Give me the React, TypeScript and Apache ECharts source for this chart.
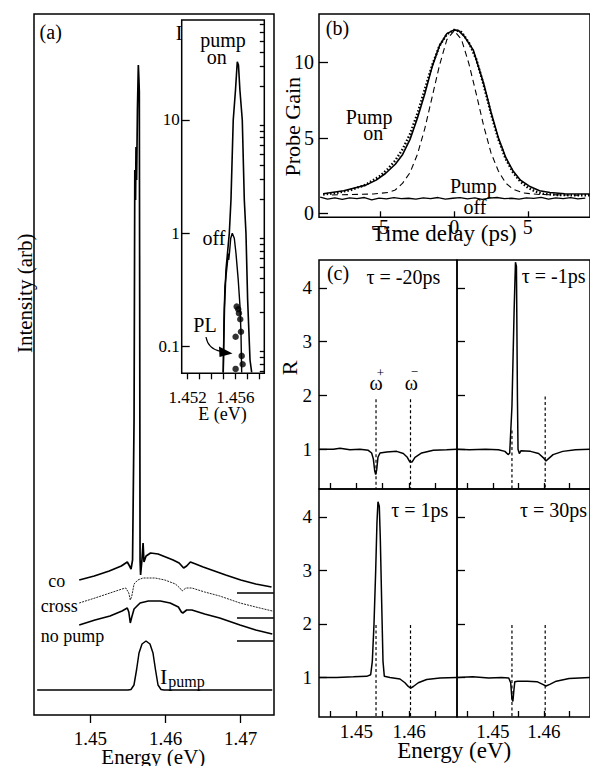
import React, { useEffect, useRef } from "react";
import * as echarts from "echarts";

const FONT = "Liberation Serif, serif";

// ---------- (a) main spectra: [energy (eV), intensity (arb)] ----------
const coTrace = [[1.4485,135],[1.4505,139],[1.4525,144],[1.4541,149],[1.4549,153],[1.4552,149],[1.4554,146],[1.4556,155],[1.4558,295],[1.4559,545],[1.456,515],[1.45606,568],[1.45614,535],[1.45625,605],[1.45637,650],[1.45645,635],[1.4565,623],[1.45655,415],[1.4566,155],[1.45667,140],[1.45685,155],[1.457,172],[1.45712,153],[1.4574,159],[1.458,162],[1.459,161],[1.46,158],[1.461,155],[1.4618,152],[1.4624,147],[1.4628,149],[1.4633,153],[1.464,151],[1.465,148],[1.4665,144],[1.468,140],[1.47,135],[1.472,131],[1.4741,128]];
const crossTrace = [[1.4485,112],[1.4506,117],[1.4526,122],[1.4542,126],[1.4547,127],[1.4551,122],[1.4553,115],[1.4555,119],[1.4558,131],[1.4563,135],[1.457,137],[1.4586,137],[1.4599,135],[1.4613,131],[1.4619,127],[1.4622,124],[1.4627,127],[1.4635,127],[1.4652,123],[1.4672,119],[1.4699,112],[1.472,108],[1.4742,104]];
const noPumpTrace = [[1.4485,90],[1.4506,95],[1.4526,99],[1.4542,104],[1.4549,107],[1.4551,103],[1.4553,92],[1.4555,98],[1.4558,106],[1.4566,112],[1.4577,114],[1.4593,114],[1.4606,112],[1.4617,108],[1.4621,103],[1.4623,102],[1.4628,105],[1.4635,105],[1.4652,101],[1.4672,97],[1.4699,90],[1.472,85],[1.4742,81]];
const pumpSpectrum = [[1.4429,25],[1.455,25],[1.45539,25.5],[1.45579,30],[1.45613,45],[1.45646,62],[1.45686,71],[1.45739,74],[1.45792,71],[1.45832,62],[1.45866,45],[1.45899,30],[1.45939,25.5],[1.4598,25],[1.4742,25]];
const baselineLevels = [122, 97, 74];
const baselineSpan = [1.4695, 1.4744];
const aTicks = [1.45, 1.46, 1.47];

// ---------- (a) inset: [energy (eV), intensity] on log scale ----------
const insetPumpOn = [[1.45499,0.059],[1.45509,0.21],[1.45522,0.474],[1.4555,1.0],[1.45564,1.97],[1.45583,10],[1.45602,18.4],[1.45617,32.7],[1.45627,30.6],[1.45639,18.4],[1.45659,10],[1.45676,1.97],[1.4569,1.0],[1.45704,0.258],[1.45724,0.076],[1.45738,0.059]];
const insetOff = [[1.45499,0.059],[1.45505,0.172],[1.45513,0.338],[1.45522,0.414],[1.45535,0.56],[1.45541,0.66],[1.45545,0.58],[1.45552,0.68],[1.45562,0.903],[1.45575,1.0],[1.45592,0.903],[1.45606,0.666],[1.45625,0.387],[1.4564,0.225],[1.45648,0.132],[1.45654,0.059]];
const insetPL = [[1.45612,0.225],[1.45625,0.213],[1.45631,0.197],[1.45642,0.174],[1.45648,0.135],[1.45603,0.122],[1.45654,0.0826],[1.45662,0.0698],[1.45603,0.0634]];
const insetXTicks = [1.452, 1.453, 1.454, 1.455, 1.456, 1.457, 1.458];
const insetXLabels = [1.452, 1.456];
const insetMajor = [0.1, 1, 10];
const insetMinor = [0.06,0.07,0.08,0.09,0.2,0.3,0.4,0.5,0.6,0.7,0.8,0.9,2,3,4,5,6,7,8,9,20,30,40,50,60,70];

// ---------- (b) probe gain vs time delay (ps) ----------
const bSolid = [[-8.9,1.3],[-7.5,1.5],[-6.5,1.75],[-6,1.87],[-5.3,2.2],[-4.67,2.64],[-4,3.25],[-3.5,3.9],[-3,4.9],[-2.5,6.3],[-2,7.9],[-1.5,9.7],[-1,11.1],[-0.5,11.9],[0,12.15],[0.3,12.1],[0.7,11.7],[1.3,10.8],[2,8.6],[2.5,6.7],[3,5.0],[3.5,3.7],[4,2.8],[4.5,2.2],[5.1,1.8],[5.8,1.5],[6.5,1.38],[7.5,1.3],[9.2,1.28]];
const bDotted = [[-8.9,1.25],[-8,1.35],[-7,1.55],[-6,1.9],[-5,2.5],[-4.5,2.95],[-4,3.5],[-3.5,4.25],[-3,5.25],[-2.5,6.6],[-2,8.2],[-1.5,9.8],[-1,11.1],[-0.5,11.85],[0,12.15],[0.5,12.0],[1,11.3],[1.5,10.2],[2,8.5],[2.5,6.6],[3,4.9],[3.5,3.6],[4,2.7],[4.5,2.1],[5,1.7],[5.5,1.45],[6,1.3],[7,1.22],[8,1.2],[9.2,1.2]];
const bDashed = [[-8.3,1.22],[-5.5,1.28],[-4.5,1.38],[-4,1.55],[-3.5,2.0],[-3,2.7],[-2.5,3.9],[-2,5.6],[-1.5,7.7],[-1,9.8],[-0.5,11.5],[0,12.1],[0.5,11.5],[1,9.9],[1.5,7.9],[2,5.8],[2.5,4.0],[3,2.8],[3.5,2.0],[4,1.6],[4.7,1.35],[5.8,1.25],[8.5,1.2]];
const bOffT = [-9.1,-8.6,-8.1,-7.6,-7.1,-6.6,-6.1,-5.6,-5.1,-4.6,-4.1,-3.6,-3.1,-2.6,-2.1,-1.6,-1.1,-0.6,-0.1,0.4,0.9,1.4,1.9,2.4,2.9,3.4,3.9,4.4,4.9,5.4,5.9,6.4,6.9,7.4,7.9,8.4,8.9];
const bOffV = [1.08,0.95,1.02,0.93,1.03,0.97,1.05,0.9,1.01,0.96,1.04,0.98,1.0,0.94,1.03,0.97,1.05,0.95,1.0,1.04,0.96,1.02,0.93,1.01,1.05,0.97,1.0,0.94,1.03,0.99,1.06,0.95,1.02,0.97,1.04,0.96,1.01];
const bXTicks = [-5, 0, 5];
const bYTicks = [0, 5, 10];

// ---------- (c) R vs energy (eV) for four delays ----------
const cTopLeft = [[1.443,1.0],[1.44566,1.0],[1.44692,1.02],[1.4488,0.99],[1.4507,1.0],[1.45227,0.98],[1.4529,0.93],[1.45322,0.82],[1.45348,0.6],[1.45367,0.53],[1.45386,0.62],[1.4541,0.85],[1.45448,0.93],[1.45575,0.95],[1.45764,0.96],[1.45889,0.92],[1.45964,0.85],[1.46015,0.76],[1.46053,0.76],[1.4611,0.85],[1.46236,0.93],[1.46456,0.98],[1.46709,0.99],[1.469,1.0]];
const cTopRight = [[1.443,1.0],[1.4454,0.99],[1.44856,1.0],[1.45108,0.99],[1.45235,0.96],[1.45297,0.9],[1.45329,0.93],[1.45373,1.8],[1.45416,3.6],[1.45442,4.48],[1.45461,4.4],[1.4548,2.0],[1.45492,1.0],[1.45518,0.92],[1.45548,0.97],[1.45737,0.96],[1.45896,0.92],[1.45991,0.84],[1.4604,0.78],[1.46085,0.82],[1.4618,0.9],[1.46369,0.96],[1.4662,0.99],[1.469,1.0]];
const cBottomLeft = [[1.443,1.0],[1.4463,1.0],[1.44943,1.01],[1.45197,1.02],[1.45272,1.05],[1.45303,1.3],[1.45335,2.0],[1.45367,3.0],[1.45391,3.9],[1.4541,4.28],[1.45435,4.2],[1.45454,3.6],[1.4548,2.4],[1.45505,1.3],[1.4553,1.02],[1.45637,1.0],[1.45826,0.97],[1.4592,0.9],[1.45983,0.83],[1.46028,0.8],[1.46078,0.83],[1.46172,0.9],[1.4633,0.96],[1.46582,0.99],[1.469,1.0]];
const cBottomRight = [[1.443,1.0],[1.44603,1.01],[1.44919,0.99],[1.4517,1.0],[1.4531,0.99],[1.45348,0.9],[1.45373,0.6],[1.45391,0.55],[1.4541,0.75],[1.45429,0.92],[1.45486,0.93],[1.45675,0.93],[1.45864,0.92],[1.45977,0.87],[1.4604,0.84],[1.46115,0.87],[1.46242,0.93],[1.46494,0.98],[1.469,1.0]];
const cPanels = [cTopLeft, cTopRight, cBottomLeft, cBottomRight];
const omegaPlus = 1.45373;
const omegaMinus = 1.46025;
const omegaPlusTop = [1.93, 1.35, 1.98, 1.98];
const omegaMinusTop = [1.93, 1.98, 1.98, 1.98];
const cRMin = 0.26;
const cXTicks = [1.445, 1.45, 1.455, 1.46, 1.465];
const cXLabels = [1.45, 1.46];
const cYTicks = [1, 2, 3, 4];

function buildOption() {
  const txt = (size: number) => ({ color: "#000", fontFamily: FONT, fontSize: size });
  const tickStyle = { color: "#000", width: 1.3 };
  const lineS = (data: any[], xi: number, yi: number, width = 1.5, type: any = "solid", color = "#000") => ({
    type: "line", xAxisIndex: xi, yAxisIndex: yi, data, showSymbol: false, symbol: "none",
    silent: true, animation: false, lineStyle: { color, width, type }, z: 3,
  });

  const grids = [
    { left: 34, top: 14, width: 240, height: 701 },
    { left: 181.7, top: 20, width: 82.6, height: 353.3 },
    { left: 319, top: 14, width: 276, height: 203.3 },
    { left: 319, top: 260, width: 138, height: 229 },
    { left: 457, top: 260, width: 138, height: 229 },
    { left: 319, top: 489, width: 138, height: 228 },
    { left: 457, top: 489, width: 138, height: 228 },
  ].map((g) => ({ ...g, show: true, borderColor: "#000", borderWidth: 1.5, backgroundColor: "transparent" }));

  const lg = (v: number) => Math.log10(v);
  const insetYMin = lg(0.058), insetYMax = lg(76.3);

  const xAxis: any[] = [
    { gridIndex: 0, type: "value", min: 1.44248, max: 1.47443, axisLine: { show: false, onZero: false }, splitLine: { show: false },
      axisTick: { show: true, inside: false, length: 8, customValues: aTicks, lineStyle: tickStyle },
      axisLabel: { show: true, customValues: aTicks, margin: 14, formatter: (v: number) => v.toFixed(2), ...txt(19) } },
    { gridIndex: 1, type: "value", min: 1.4515, max: 1.45844, axisLine: { show: false, onZero: false }, splitLine: { show: false },
      axisTick: { show: true, inside: false, length: 6, customValues: insetXTicks, lineStyle: tickStyle },
      axisLabel: { show: true, customValues: insetXLabels, margin: 15.5, formatter: (v: number) => v.toFixed(3), ...txt(17) } },
    { gridIndex: 2, type: "value", min: -9.18, max: 9.22, axisLine: { show: false, onZero: false }, splitLine: { show: false },
      axisTick: { show: true, inside: true, length: 6, customValues: bXTicks, lineStyle: tickStyle },
      axisLabel: { show: true, customValues: bXTicks, margin: 0, formatter: (v: number) => String(v), ...txt(20) } },
  ];
  for (let i = 0; i < 4; i++) {
    const bottom = i >= 2;
    xAxis.push({ gridIndex: 3 + i, type: "value", min: 1.44295, max: 1.46904, axisLine: { show: false, onZero: false }, splitLine: { show: false },
      axisTick: { show: true, inside: true, length: 6, customValues: cXTicks, lineStyle: tickStyle },
      axisLabel: { show: bottom, customValues: cXLabels, margin: 5, formatter: (v: number) => v.toFixed(2), ...txt(19) } });
  }

  const yAxis: any[] = [
    { gridIndex: 0, type: "value", min: 0, max: 701, show: false },
    { gridIndex: 1, type: "value", min: insetYMin, max: insetYMax, axisLine: { show: false, onZero: false }, splitLine: { show: false },
      axisTick: { show: true, inside: true, length: 8, customValues: insetMajor.map(lg), lineStyle: tickStyle },
      axisLabel: { show: true, customValues: insetMajor.map(lg), margin: 2, ...txt(17),
        formatter: (v: number) => { const m = insetMajor.find((q) => Math.abs(lg(q) - v) < 1e-6); return m === undefined ? "" : String(m); } } },
    { gridIndex: 1, type: "value", min: insetYMin, max: insetYMax, axisLine: { show: false, onZero: false }, splitLine: { show: false },
      axisTick: { show: true, inside: true, length: 4.5, customValues: insetMinor.map(lg), lineStyle: tickStyle },
      axisLabel: { show: false } },
    { gridIndex: 2, type: "value", min: -0.26, max: 13.2, axisLine: { show: false, onZero: false }, splitLine: { show: false },
      axisTick: { show: true, inside: true, length: 9, customValues: bYTicks, lineStyle: tickStyle },
      axisLabel: { show: true, customValues: bYTicks, margin: 5, ...txt(20) } },
  ];
  for (let i = 0; i < 4; i++) {
    const leftCol = i % 2 === 0;
    yAxis.push({ gridIndex: 3 + i, type: "value", min: cRMin, max: 4.52, axisLine: { show: false, onZero: false }, splitLine: { show: false },
      axisTick: { show: true, inside: true, length: 8, customValues: cYTicks, lineStyle: tickStyle },
      axisLabel: { show: leftCol, customValues: cYTicks, margin: 7, ...txt(19) } });
  }

  const series: any[] = [
    lineS(coTrace, 0, 0, 1.7),
    lineS(crossTrace, 0, 0, 1, [2, 1], "#222"),
    lineS(noPumpTrace, 0, 0, 1.6),
    lineS(pumpSpectrum, 0, 0, 1.5),
    ...baselineLevels.map((lv) => lineS(baselineSpan.map((e) => [e, lv]), 0, 0, 1.4)),
    lineS(insetPumpOn.map(([e, v]) => [e, lg(v)]), 1, 1, 1.6),
    lineS(insetOff.map(([e, v]) => [e, lg(v)]), 1, 1, 1.4),
    { type: "scatter", xAxisIndex: 1, yAxisIndex: 1, data: insetPL.map(([e, v]) => [e, lg(v)]), symbol: "circle", symbolSize: 6.5,
      itemStyle: { color: "#000" }, silent: true, animation: false, z: 4 },
    lineS(bOffT.map((t, i) => [t, bOffV[i]]), 2, 3, 1.3),
    lineS(bDashed, 2, 3, 1.1, [6, 4]),
    lineS(bDotted, 2, 3, 2.4, [1.5, 2]),
    lineS(bSolid, 2, 3, 1.6),
  ];
  cPanels.forEach((d, i) => {
    series.push(lineS([[omegaPlus, omegaPlusTop[i]], [omegaPlus, cRMin]], 3 + i, 4 + i, 1.2, [3, 2.5]));
    series.push(lineS([[omegaMinus, omegaMinusTop[i]], [omegaMinus, cRMin]], 3 + i, 4 + i, 1.2, [3, 2.5]));
    series.push(lineS(d, 3 + i, 4 + i, 1.5));
  });

  const T = (text: string, x: number, y: number, size: number, align = "center", rot = 0) => ({
    type: "text", x, y, rotation: rot, z: 10, silent: true,
    style: { text, fill: "#000", fontFamily: FONT, fontSize: size, textAlign: align, textVerticalAlign: "middle" },
  });
  const R90 = Math.PI / 2;
  const graphic: any[] = [
    T("(a)", 50.7, 31.5, 20),
    T("I", 179, 33.2, 20),
    T("pump", 223, 39.9, 20),
    T("on", 216.7, 57, 20),
    T("off", 214, 237.7, 20),
    T("PL", 205, 325, 20),
    T("E (eV)", 222.5, 414, 18),
    T("Intensity (arb)", 24.6, 293.3, 21, "center", R90),
    T("Energy (eV)", 153.3, 757, 21),
    T("co", 56.7, 581.2, 18),
    T("cross", 59.2, 606.2, 18),
    T("no pump", 72.5, 635.6, 18),
    T("I", 163.7, 676.5, 22),
    T("pump", 168.3, 681.3, 16, "left"),
    T("(b)", 337.5, 28.2, 20),
    T("Pump", 369.2, 116.5, 20),
    T("on", 373.3, 133.2, 20),
    T("Pump", 473.3, 185.9, 20),
    T("off", 475, 206.5, 20),
    T("Probe Gain", 292, 126.7, 22, "center", R90),
    T("Time delay (ps)", 444.2, 233.9, 23),
    T("(c)", 338, 272.5, 20),
    T("τ = -20ps", 403.3, 276.5, 20),
    T("τ = -1ps", 521.7, 276.2, 20, "left"),
    T("τ = 1ps", 419.7, 509.9, 20),
    T("τ = 30ps", 520, 509.9, 20, "left"),
    T("ω", 376.2, 382.5, 20),
    T("+", 380.3, 372.7, 13),
    T("ω", 411.3, 382.5, 20),
    T("−", 414.5, 371.7, 13),
    T("R", 289.5, 368, 22, "center", R90),
    T("Energy (eV)", 454.2, 750.5, 23),
    { type: "bezierCurve", z: 10, silent: true, shape: { x1: 206, y1: 337, cpx1: 208, cpy1: 349, x2: 221, y2: 351.5 },
      style: { stroke: "#000", lineWidth: 1.2, fill: null } },
    { type: "polygon", z: 10, silent: true, shape: { points: [[219, 346.5], [232.5, 353.5], [219.5, 357]] }, style: { fill: "#000" } },
  ];

  return { animation: false, backgroundColor: "#fff", textStyle: { fontFamily: FONT }, grid: grids, xAxis, yAxis, series, graphic };
}

export default function App() {
  const ref = useRef<HTMLDivElement>(null);
  useEffect(() => {
    const chart = echarts.init(ref.current!, null, { renderer: "svg" });
    chart.setOption(buildOption() as any);
    return () => chart.dispose();
  }, []);
  return <div ref={ref} style={{ position: "fixed", left: 0, top: 0, width: 590, height: 766, background: "#fff" }} />;
}
